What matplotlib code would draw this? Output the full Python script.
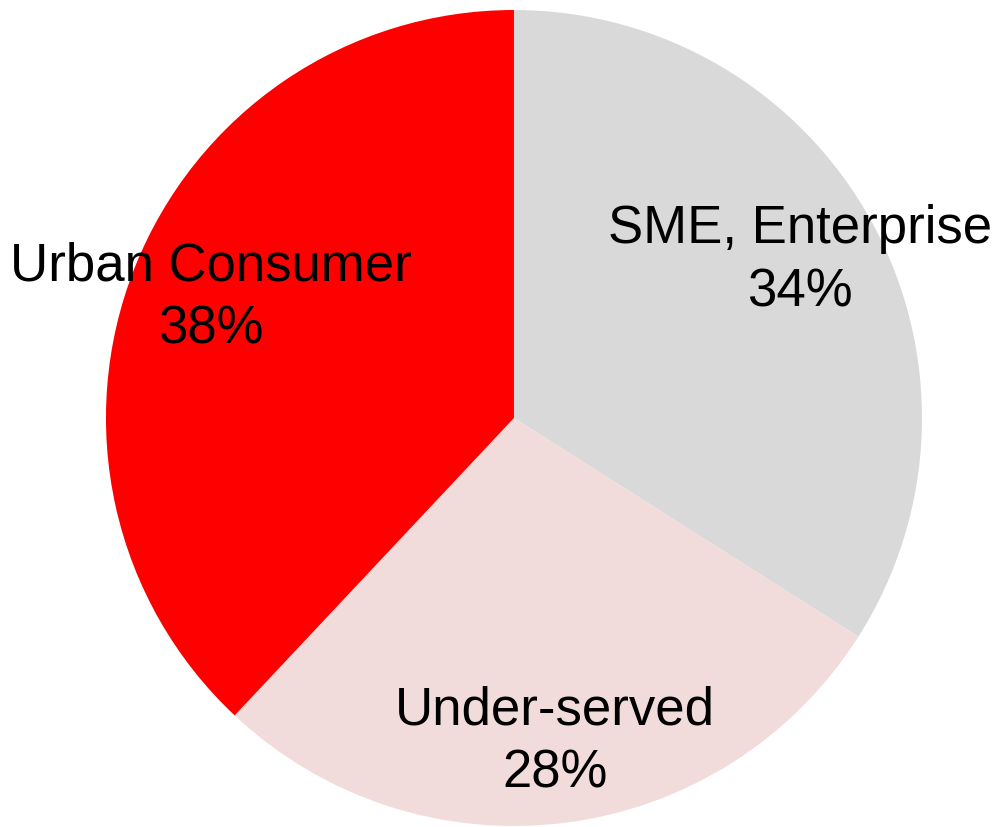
import matplotlib
matplotlib.use('Agg')
from matplotlib import pyplot as plt

plt.rcParams['font.family'] = ['Liberation Sans', 'DejaVu Sans']

segments = ['SME, Enterprise', 'Under-served', 'Urban Consumer']
shares = [34, 28, 38]
colors = ['#d9d9d9', '#f2dcdb', '#ff0000']

fig = plt.figure(figsize=(9.95, 8.27), dpi=100)
ax = fig.add_axes([0.1065, 0.0012, 0.8201, 0.9867])


def label_for(pct):
    # pick the segment whose share matches the computed percentage
    i = min(range(len(shares)), key=lambda k: abs(shares[k] - pct))
    return '%s\n%d%%' % (segments[i], shares[i])


ax.pie(shares, colors=colors, startangle=90, counterclock=False,
       autopct=label_for, pctdistance=0.8,
       textprops={'fontsize': 38, 'color': 'black', 'linespacing': 1.35},
       wedgeprops={'linewidth': 0})
ax.set_xlim(-1, 1)
ax.set_ylim(-1, 1)
ax.set_aspect('equal')
ax.axis('off')

fig.savefig('out.png', dpi=100)
